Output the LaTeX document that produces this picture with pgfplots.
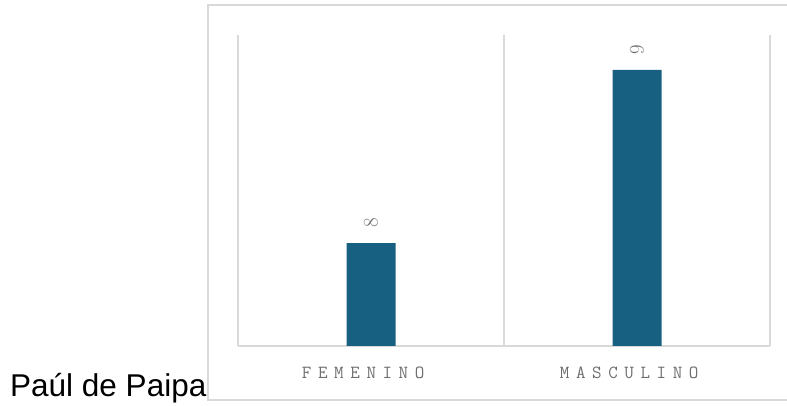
\documentclass[border=0pt]{standalone}
\usepackage{pgfplots}
\pgfplotsset{compat=1.18}
\usepackage{fontspec}
\setmainfont{Liberation Sans}

\definecolor{barblue}{RGB}{23,96,130}
\definecolor{framegray}{RGB}{217,217,217}
\definecolor{labelgray}{RGB}{110,110,110}

% widely spaced category names
\newlength\lsp
\setlength\lsp{6.6pt}
\makeatletter
\def\spaceout#1{\@tfor\@ch:=#1\do{\@ch\kern\lsp}}
\makeatother
\newcommand{\catfont}{\ttfamily\fontsize{18.5}{20}\selectfont}
\newcommand{\valfont}{\ttfamily\fontsize{21}{21}\selectfont}

\begin{document}
\begin{tikzpicture}[x=1pt,y=1pt]
  \useasboundingbox (0,0) rectangle (787,406);
  \begin{scope}
    \clip (0,0) rectangle (787,406);
    % chart frame, running past the right edge
    \draw[framegray, line width=1.5pt] (208,6) rectangle (800,401);
  \end{scope}

  \node[anchor=base west, inner sep=0pt, font=\fontsize{31.5}{36}\selectfont]
    at (10,9) {Paúl de Paipa};

  \begin{axis}[
    at={(238pt,60pt)}, anchor=south west,
    width=532pt, height=311pt, scale only axis,
    xmin=0, xmax=2,
    ymin=7.405, ymax=9.202,
    axis x line*=bottom,
    axis y line=none,
    x axis line style={framegray, line width=1.5pt},
    xtick={0.5,1.5},
    xticklabels={\spaceout{FEMENINO}, \spaceout{MASCULINO}},
    major tick length=0pt,
    xticklabel style={font=\catfont, text=labelgray,
      xshift=-4.5pt, yshift=-17pt},
    extra x ticks={0,1,2},
    extra x tick labels={},
    extra x tick style={grid=major,
      major grid style={framegray, line width=1.5pt}},
    ybar,
    bar width=49pt,
    nodes near coords,
    every node near coord/.append style={
      font=\valfont, text=labelgray,
      rotate=90, anchor=west, xshift=12pt},
  ]
    \addplot[fill=barblue, draw=none] coordinates {(0.5,8) (1.5,9)};
  \end{axis}
\end{tikzpicture}
\end{document}
